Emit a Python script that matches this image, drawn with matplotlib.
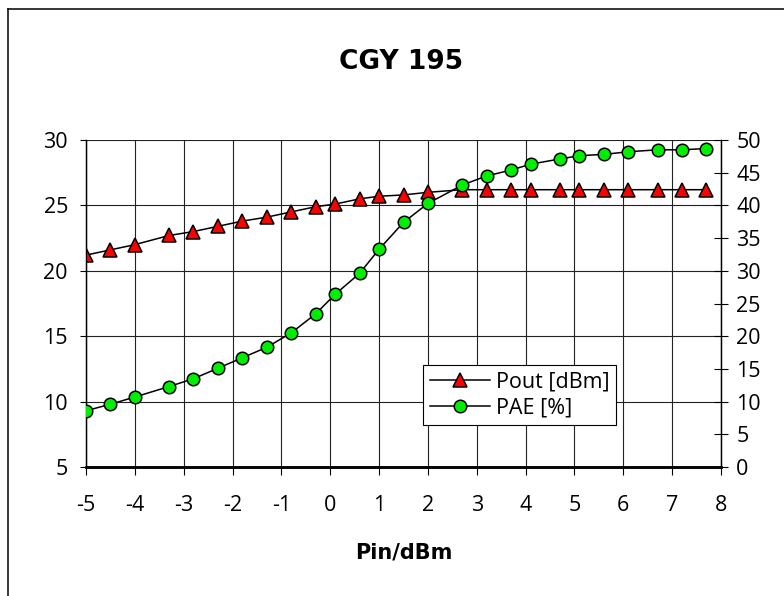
import matplotlib

matplotlib.use("Agg")
import matplotlib.pyplot as plt
from matplotlib.lines import Line2D

plt.rcParams["font.family"] = ["Open Sans", "DejaVu Sans"]

# Pin/dBm
PIN = [-5, -4.5, -4, -3.3, -2.8, -2.3, -1.8, -1.3, -0.8, -0.3, 0.1, 0.6, 1.0,
       1.5, 2.0, 2.7, 3.2, 3.7, 4.1, 4.7, 5.1, 5.6, 6.1, 6.7, 7.2, 7.7]
# Pout [dBm] (left axis)
POUT = [21.2, 21.6, 22.0, 22.7, 23.0, 23.4, 23.8, 24.1, 24.5, 24.9, 25.1, 25.5, 25.7,
        25.8, 26.0, 26.2, 26.2, 26.2, 26.2, 26.2, 26.2, 26.2, 26.2, 26.2, 26.2, 26.2]
# PAE [%] (right axis)
PAE = [8.6, 9.6, 10.7, 12.3, 13.5, 15.1, 16.7, 18.3, 20.5, 23.4, 26.4, 29.6, 33.3,
       37.4, 40.3, 43.1, 44.5, 45.4, 46.3, 47.1, 47.6, 47.8, 48.2, 48.5, 48.5, 48.7]

XTICKS = list(range(-5, 9))
LTICKS = [5, 10, 15, 20, 25, 30]
RTICKS = list(range(0, 51, 5))

FS = 15.5

fig = plt.figure(figsize=(7.84, 5.96), dpi=100)
fig.patch.set_facecolor("white")
ax = fig.add_axes([86 / 784, 1 - 467 / 596, 635 / 784, 327 / 596])
ax2 = ax.twinx()

# outer chart frame (left + top edges visible)
fig.add_artist(Line2D([8 / 784, 8 / 784], [0, 1 - 9 / 596], color="black", lw=1.1))
fig.add_artist(Line2D([8 / 784, 1], [1 - 9 / 596, 1 - 9 / 596], color="black", lw=1.1))

ax.plot(PIN, POUT, color="black", lw=1.1, marker="^", ms=9.5, mfc="#ff0000",
        mec="black", mew=1.1, label="Pout [dBm]", zorder=3)
ax2.plot(PIN, PAE, color="black", lw=1.1, marker="o", ms=9, mfc="#00ee00",
         mec="black", mew=1.1, label="PAE [%]", zorder=3)

ax.set_xlim(-5, 8)
ax.set_ylim(5, 30)
ax2.set_ylim(0, 50)
ax.set_xticks(XTICKS)
ax.set_xticklabels([str(v) for v in XTICKS], fontsize=FS)
ax.set_yticks(LTICKS)
ax.set_yticklabels([str(v) for v in LTICKS], fontsize=FS)
ax2.set_yticks(RTICKS)
ax2.set_yticklabels([str(v) for v in RTICKS], fontsize=FS)

ax.grid(True, color="#222222", lw=0.8)
ax.set_axisbelow(True)
ax.tick_params(axis="y", direction="out", length=4.5, width=0.8, pad=8.5)
ax.tick_params(axis="x", direction="out", length=5.5, width=0.8, pad=15)
ax2.tick_params(axis="y", direction="inout", length=10, width=0.8, pad=6)

for a in (ax, ax2):
    a.spines["top"].set_visible(False)
    a.spines["left"].set_linewidth(0.9)
    a.spines["right"].set_linewidth(0.9)
    a.spines["bottom"].set_linewidth(1.8)

fig.text(0.511, 0.896, "CGY 195", ha="center", va="center", fontsize=19,
         fontweight="bold", family="DejaVu Sans")
fig.text(403.5 / 784, 1 - 553 / 596, "Pin/dBm", ha="center", va="center", fontsize=15,
         fontweight="bold", family="DejaVu Sans")

h1, l1 = ax.get_legend_handles_labels()
h2, l2 = ax2.get_legend_handles_labels()
leg = ax2.legend(h1 + h2, l1 + l2, loc="lower left", bbox_to_anchor=(0.531, 0.128),
                 borderaxespad=0, fontsize=FS, fancybox=False, framealpha=1,
                 edgecolor="black", handlelength=2.8, handletextpad=0.3,
                 borderpad=0.3, labelspacing=0.25)
leg.get_frame().set_linewidth(0.8)

fig.savefig("out.png", dpi=100, facecolor="white")
